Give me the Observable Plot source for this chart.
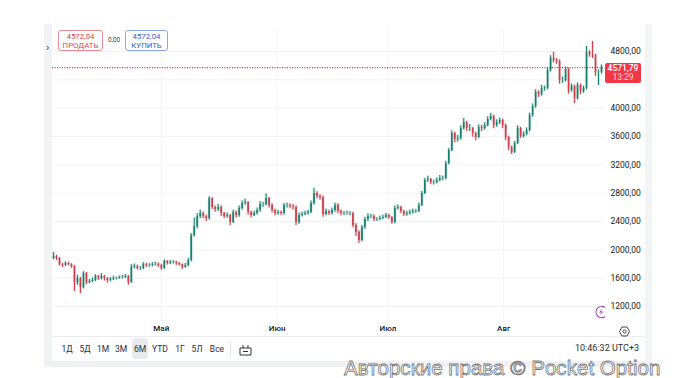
<!DOCTYPE html>
<html><head><meta charset="utf-8">
<script src="https://cdn.jsdelivr.net/npm/d3@7"></script>
<script src="https://cdn.jsdelivr.net/npm/@observablehq/plot@0.6"></script>
<style>
html,body{margin:0;padding:0;background:#fff;overflow:hidden}
#w{position:relative;width:676px;height:378px;font-family:Roboto,"Liberation Sans",sans-serif;color:#131722}
#w svg.plot{position:absolute;left:0;top:0}
.o{position:absolute;white-space:nowrap}
.b{position:absolute;box-sizing:border-box;border-radius:3px;background:#fff;text-align:center;font-size:7.8px;line-height:9px;padding-top:1px}
.p{position:absolute;top:343px;font-size:8.5px;line-height:12px;transform:translateX(-50%);color:#2a2e39}
</style></head><body><div id="w"></div>
<script>
const closes=[1905,1877,1792,1778,1807,1792,1764,1538,1595,1468,1666,1538,1552,1567,1623,1595,1623,1595,1567,1581,1595,1595,1609,1609,1623,1538,1750,1764,1736,1736,1792,1778,1778,1792,1792,1778,1736,1835,1807,1821,1821,1807,1792,1750,1778,1849,
2202,2329,2470,2513,2470,2442,2724,2597,2569,2597,2513,2470,2484,2385,2527,2484,2583,2654,2668,2527,2484,2513,2555,2640,2640,2724,2626,2555,2513,2527,2513,2626,2626,2611,2597,2385,2484,2498,2513,2527,2654,2795,2753,2738,2498,2541,2513,2555,2626,2541,2513,2513,2513,2513,2343,2244,2131,2315,2428,2470,2470,2428,2428,2442,2456,2484,2456,2385,2583,2597,2541,2498,2513,2527,2541,2541,2626,2795,2979,2993,2950,2950,2979,3007,3007,3219,3402,3642,3557,3572,3713,3797,3713,3713,3642,3586,3727,3713,3755,3840,3882,3755,3797,3826,3755,3586,3444,3374,3501,3713,3600,3628,3685,3896,4023,4221,4193,4278,4278,4532,4701,4673,4659,4391,4391,4546,4249,4306,4137,4320,4235,4278,4786,4758,4744,4503,4503,4572];
const highs=[1960,1925,1890,1810,1830,1825,1805,1780,1640,1610,1690,1680,1580,1600,1650,1640,1665,1640,1610,1610,1625,1615,1630,1640,1650,1640,1790,1800,1785,1765,1820,1810,1805,1820,1825,1815,1795,1860,1850,1850,1845,1840,1825,1800,1810,1880,
2230,2450,2510,2560,2535,2490,2750,2735,2620,2640,2620,2530,2520,2500,2560,2550,2620,2690,2715,2680,2545,2545,2590,2680,2670,2790,2740,2650,2575,2560,2550,2655,2660,2650,2640,2620,2520,2530,2545,2560,2690,2866,2820,2780,2760,2575,2560,2590,2660,2650,2565,2540,2545,2540,2530,2370,2270,2345,2460,2510,2500,2495,2455,2475,2490,2515,2505,2470,2620,2635,2615,2560,2545,2560,2575,2570,2660,2825,3010,3040,3010,2985,3015,3050,3040,3250,3430,3680,3660,3615,3750,3854,3815,3770,3730,3660,3765,3760,3795,3880,3925,3900,3835,3860,3845,3775,3605,3465,3530,3750,3730,3665,3720,3930,4060,4260,4245,4320,4310,4570,4740,4790,4700,4680,4440,4580,4565,4340,4325,4355,4340,4310,4870,4810,4941,4760,4540,4610];
const lows=[1860,1850,1770,1750,1765,1775,1740,1411,1500,1383,1450,1510,1520,1535,1550,1570,1575,1560,1530,1550,1565,1575,1585,1590,1595,1500,1525,1730,1715,1710,1720,1750,1755,1760,1770,1750,1710,1725,1785,1790,1800,1780,1770,1725,1740,1760,
1830,2180,2300,2440,2440,2400,2420,2570,2530,2540,2470,2440,2445,2340,2370,2450,2460,2560,2630,2490,2450,2470,2490,2530,2600,2620,2590,2520,2480,2490,2480,2490,2590,2580,2560,2340,2360,2465,2480,2490,2510,2630,2720,2700,2460,2480,2485,2490,2530,2510,2480,2485,2490,2480,2310,2190,2090,2110,2290,2400,2440,2400,2400,2410,2425,2440,2430,2360,2365,2560,2510,2470,2475,2490,2505,2515,2525,2610,2780,2950,2920,2915,2930,2960,2975,2990,3200,3385,3510,3520,3550,3690,3670,3670,3590,3540,3570,3670,3690,3735,3820,3710,3730,3770,3710,3540,3400,3346,3360,3485,3570,3580,3610,3665,3875,4000,4150,4170,4240,4260,4510,4640,4620,4340,4350,4370,4200,4225,4066,4115,4190,4210,4260,4720,4700,4450,4320,4480];
const firstOpen=1877;
const priceTicks=[1200,1600,2000,2400,2800,3200,3600,4000,4400,4800];
const priceLabels=[1200,1600,2000,2400,2800,3200,3600,4000,4800];
const monthPositions=[36,74.67,111.67,150.33];
const monthNames=["Май","Июн","Июл","Авг"];
const lastPrice=4572.04;
const periods=["1Д","5Д","1М","3М","6М","YTD","1Г","5Л","Все"];
const periodX=[67,85,103,121,140,160,180,197,217];

const candles=closes.map((c,i)=>({i,close:c,open:i?closes[i-1]:firstOpen,high:highs[i],low:lows[i]}));
const UP="#16806f",DOWN="#c83f4b";
const color=d=>d.close>=d.open?UP:DOWN;
const priceFmt=d=>d+",00";
const monthFmt=d=>monthNames[monthPositions.indexOf(d)];

const plot=Plot.plot({
  width:676,height:378,
  marginLeft:52,marginRight:72,marginTop:30,marginBottom:56,
  style:{background:"transparent",fontFamily:"Roboto,'Liberation Sans',sans-serif",fontSize:"8.5px",color:"#131722",overflow:"visible"},
  x:{type:"linear",domain:[0,closes.length-1],range:[53,601]},
  y:{type:"linear",domain:[1200,4800],range:[306,51]},
  marks:[
    Plot.gridY(priceTicks,{stroke:"#f1f3f8",strokeOpacity:1}),
    Plot.gridX(monthPositions,{stroke:"#f1f3f8",strokeOpacity:1}),
    Plot.axisY(priceLabels,{anchor:"right",tickSize:0,tickPadding:6,tickFormat:priceFmt,label:null}),
    Plot.axisX(monthPositions,{anchor:"bottom",tickSize:0,tickPadding:3,tickFormat:monthFmt,label:null,fontWeight:500,fontSize:8}),
    Plot.ruleY([lastPrice],{stroke:"#f01f30",strokeWidth:1.2,strokeDasharray:"1 1.5"}),
    Plot.ruleX(candles,{x:"i",y1:"low",y2:"high",stroke:color,strokeWidth:3.2,strokeOpacity:0.16}),
    Plot.ruleX(candles,{x:"i",y1:"low",y2:"high",stroke:color,strokeWidth:1}),
    Plot.ruleX(candles,{x:"i",y1:"open",y2:"close",stroke:color,strokeWidth:1.6})
  ]
});
const w=document.getElementById("w");
function add(cls,css,html){const e=document.createElement("div");e.className=cls;e.style.cssText=css;if(html)e.innerHTML=html;w.appendChild(e);return e}
add("o","left:44px;top:24px;width:8px;height:338px;background:#f2f3f5");
add("o","left:645px;top:24px;width:7px;height:338px;background:#f3f4f6");
add("o","left:44px;top:361px;width:608px;height:6px;background:#f0f1f4");
add("o","left:52px;top:336px;width:593px;height:1px;background:#eaecf0");
w.appendChild(plot);
add("o","left:46px;top:42px;font-size:11px;line-height:12px;color:#444","›");
add("b","left:58px;top:30px;width:45px;height:21px;border:1px solid #e58a92;color:#d9404e","4572,04<br>ПРОДАТЬ");
add("o","left:108px;top:36px;font-size:6.5px;color:#444","0,00");
add("b","left:125px;top:30px;width:43px;height:21px;border:1px solid #8aa6e6;color:#2f5fd0","4572,04<br>КУПИТЬ");
add("o","left:605px;top:63px;width:36px;height:19px;background:#f23645;color:#fff;border-radius:2px;font-size:8.5px;line-height:9px;text-align:center;padding-top:0.5px","<b style='font-weight:500'>4571,79</b><br><span style='opacity:.8'>13:29</span>");
add("o","left:132px;top:338px;width:16px;height:21px;background:#e9eaed;border-radius:4px");
periods.forEach((p,i)=>add("p","left:"+periodX[i]+"px",p));
add("o","left:230px;top:341px;width:1px;height:15px;background:#e2e4e9");
add("o","left:239px;top:342px","<svg width='13' height='13' viewBox='0 0 13 13' fill='none' stroke='#333' stroke-width='1'><path d='M1 4h11M1 11h11V4M1 4v7M4 1v3M9 1v3M4 7.5h5'/></svg>");
add("o","left:575px;top:342px;font-size:9px;line-height:12px;color:#2a2e39","10:46:32 UTC+3");
add("o","left:594px;top:304px","<svg width='14' height='14' viewBox='0 0 14 14' fill='none' stroke='#a03bb5' stroke-width='1.1'><path d='M11 2.5A5.6 5.6 0 1 0 11 11.5'/><path d='M8.2 3.5L5.2 7.5h2.4L6 10.5l3.3-4H7z' fill='#a03bb5' stroke='none'/></svg>");
add("o","left:619px;top:322px","<svg width='11' height='11' viewBox='0 0 11 11' fill='none' stroke='#333' stroke-width='0.9'><path d='M3 1h5l2.5 4.5L8 10H3L.5 5.5z'/><circle cx='5.5' cy='5.5' r='1.6'/></svg>");
add("o","left:344px;top:356px;font-family:'Liberation Sans',Arial,sans-serif;font-size:20.6px;line-height:24px;color:#fff;-webkit-text-stroke:0.8px #777;letter-spacing:0","Авторские права © Pocket Option");
</script></body></html>
